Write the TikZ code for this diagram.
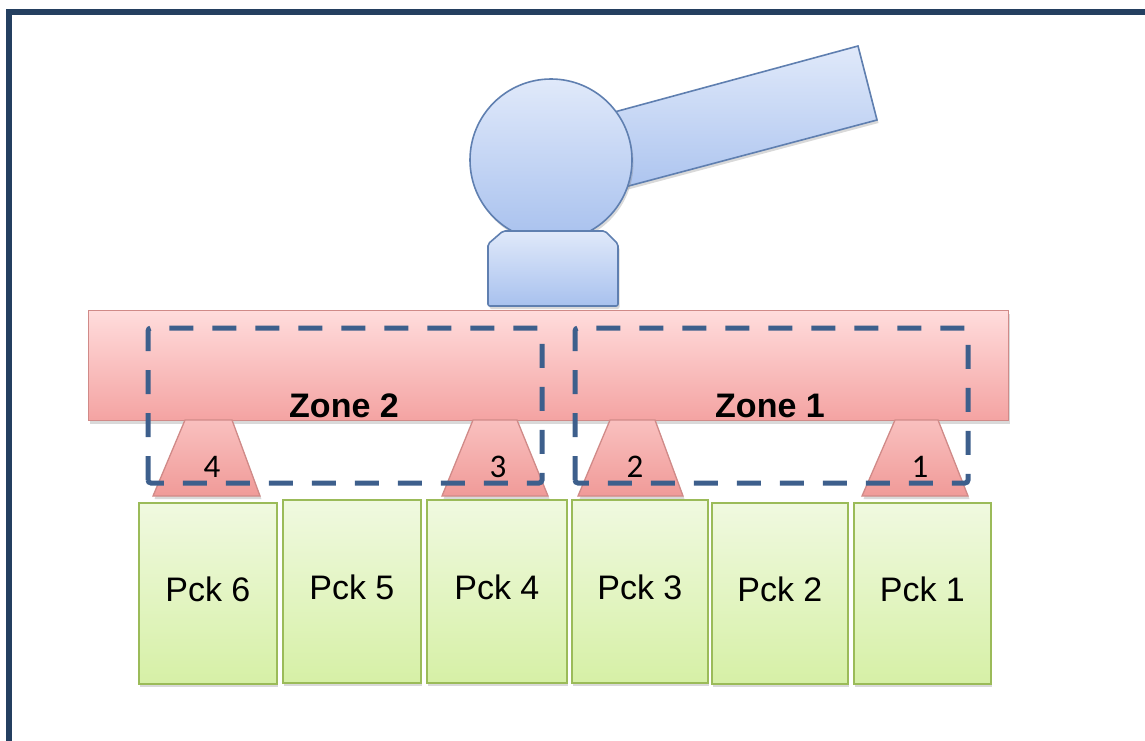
\documentclass[tikz,border=0pt]{standalone}
\usepackage{fontspec}
\setmainfont{Liberation Sans}
\newfontfamily\digitfont{Carlito}
\usetikzlibrary{shadows}

\definecolor{frameblue}{HTML}{243F60}
\definecolor{robotline}{HTML}{5F7FB0}
\definecolor{robottop}{HTML}{E0E9FA}
\definecolor{robotbot}{HTML}{A8C1EE}
\definecolor{barline}{HTML}{D08A88}
\definecolor{bartop}{HTML}{FFDCDC}
\definecolor{barbot}{HTML}{F4A3A2}
\definecolor{traptop}{HTML}{F9C0BF}
\definecolor{trapbot}{HTML}{F09A98}
\definecolor{packline}{HTML}{9BBB59}
\definecolor{packtop}{HTML}{F0F9E0}
\definecolor{packbot}{HTML}{D6F0A6}
\definecolor{zoneblue}{HTML}{3D5F8C}

\tikzset{
  softshadow/.style={drop shadow={shadow xshift=1.5pt,shadow yshift=-3pt,opacity=.3,fill=black!50}},
  robotpart/.style={draw=robotline,line width=1.6pt,top color=robottop,bottom color=robotbot,softshadow},
  beam/.style={draw=barline,line width=1.3pt,top color=bartop,bottom color=barbot,softshadow,
    inner sep=0pt,anchor=north west},
  gripper/.style={draw=barline,line width=1.3pt,top color=traptop,bottom color=trapbot,softshadow},
  pack/.style={draw=packline,line width=1.8pt,top color=packtop,bottom color=packbot,softshadow,
    inner sep=0pt,anchor=north west,text depth=8pt,font=\fontsize{34}{38}\selectfont},
  zonebox/.style={draw=zoneblue,line width=5pt,dash pattern=on 24pt off 19pt,rounded corners=3pt},
  zonelabel/.style={font=\fontsize{34}{38}\selectfont\bfseries,inner sep=0pt},
  gripnum/.style={font=\digitfont\fontsize{33}{36}\selectfont,inner sep=0pt},
}

\begin{document}
\begin{tikzpicture}[x=1pt,y=-1pt]
\useasboundingbox (0,0) rectangle (1145,740);
\clip (0,0) rectangle (1145,740);

% outer frame (runs on past the right and bottom edges)
\draw[frameblue,line width=6pt] (9,760) -- (9,12) -- (1170,12);

% robot: arm, head and base
\path[robotpart] (559,127) -- (858,46) -- (877,120) -- (572,201) -- cycle;
\node[robotpart,circle,minimum size=162pt,inner sep=0pt] (head) at (551,160) {};
\path[robotpart,rounded corners=2pt] (503,231) -- (605,231) -- (618,244) -- (618,306)
  -- (488,306) -- (488,244) -- cycle;

% carrier beam
\node[beam,minimum width=920pt,minimum height=110pt] (bar) at (88,310) {};

% grippers under the beam
\path[gripper] (185,420) -- (232,420) -- (260,496) -- (153,496) -- cycle;
\path[gripper] (473,420) -- (517,420) -- (548,496) -- (442,496) -- cycle;
\path[gripper] (610,420) -- (655,420) -- (683,496) -- (578,496) -- cycle;
\path[gripper] (895,420) -- (938,420) -- (968,496) -- (862,496) -- cycle;

% packs
\node[pack,minimum width=138pt,minimum height=181pt] (p6) at (138,502) {Pck 6};
\node[pack,minimum width=138pt,minimum height=183pt] (p5) at (282,499) {Pck 5};
\node[pack,minimum width=140pt,minimum height=183pt] (p4) at (426,499) {Pck 4};
\node[pack,minimum width=136pt,minimum height=183pt] (p3) at (571,499) {Pck 3};
\node[pack,minimum width=136pt,minimum height=181pt] (p2) at (711,502) {Pck 2};
\node[pack,minimum width=137pt,minimum height=181pt] (p1) at (853,502) {Pck 1};

% gripper numbers
\node[gripnum] (g4) at (212,467) {4};
\node[gripnum] (g3) at (498,467) {3};
\node[gripnum] (g2) at (635,467) {2};
\node[gripnum] (g1) at (920,467) {1};

% zones
\draw[zonebox] (148,483) -- (148,328) -- (542,328) -- (542,483) -- cycle;
\draw[zonebox] (575,483) -- (575,328) -- (968,328) -- (968,483) -- cycle;
\node[zonelabel] (z2) at (344,406) {Zone 2};
\node[zonelabel] (z1) at (770,406) {Zone 1};
\end{tikzpicture}
\end{document}
